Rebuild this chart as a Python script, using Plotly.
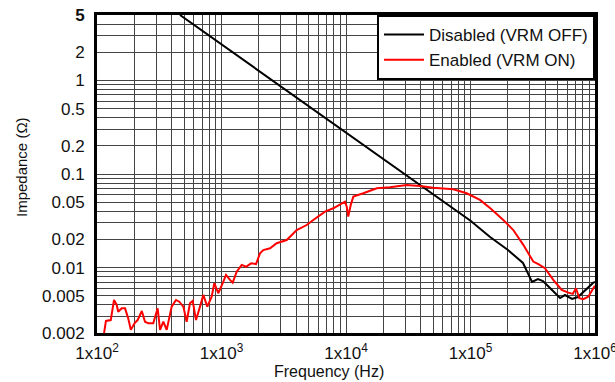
import math
import plotly.graph_objects as go

# Impedance sweep, VRM disabled (Hz, ohm)
freq_off = [464, 1000, 2000, 5000, 10000, 20000, 50000, 100000, 143600, 200000,
            264000, 312000, 348000, 382000, 435000, 524000, 574000, 654000, 730000,
            862000, 964000, 1000000]
z_off = [5.0, 2.43, 1.26, 0.533, 0.277, 0.144, 0.061, 0.0317, 0.0212, 0.0154,
         0.0112, 0.00702, 0.00755, 0.00719, 0.00605, 0.00473, 0.00509, 0.00462, 0.00485,
         0.00605, 0.00686, 0.00702]

# Impedance sweep, VRM enabled (Hz, ohm)
freq_on = [114, 118, 129, 137, 144, 148, 158, 168, 178, 187, 200, 212, 229, 243, 258,
           283, 307, 321, 341, 363, 398, 431, 458, 494, 525, 558, 587, 624, 672, 714,
           769, 834, 875, 942, 1023, 1087, 1170, 1230, 1325, 1453, 1574, 1727, 1894,
           2039, 2167, 2453, 2776, 3045, 3340, 4018, 4833, 5462, 6776, 7906, 9240, 9817,
           10140, 10430, 10910, 11450, 13770, 17660, 22560, 30730, 39300, 50240, 72760,
           93130, 119100, 143500, 183400, 220700, 265500, 319300, 350600, 396500, 462300,
           540300, 610800, 662600, 703700, 748000, 805400, 883300, 968800, 1000000]
z_on = [0.0020, 0.00269, 0.00275, 0.00451, 0.00399, 0.00338, 0.00367, 0.00367, 0.00288,
        0.00216, 0.00254, 0.00275, 0.00344, 0.00264, 0.00254, 0.00254, 0.00367, 0.00216,
        0.00264, 0.00216, 0.00383, 0.00451, 0.00432, 0.00383, 0.00264, 0.00416, 0.00440,
        0.00275, 0.00383, 0.00510, 0.00383, 0.00489, 0.00681, 0.00532, 0.00681, 0.00834,
        0.00738, 0.00690, 0.00904, 0.01067, 0.0102, 0.0111, 0.0109, 0.0142, 0.0154,
        0.0161, 0.0182, 0.0189, 0.0197, 0.0252, 0.0285, 0.0323, 0.0396, 0.0430, 0.0487,
        0.0506, 0.0448, 0.0350, 0.0467, 0.0573, 0.0622, 0.0705, 0.0721, 0.0764, 0.0745,
        0.0714, 0.0687, 0.0622, 0.0528, 0.0434, 0.0323, 0.0252, 0.0175, 0.0116, 0.0109,
        0.00984, 0.00738, 0.00577, 0.00540, 0.00523, 0.00601, 0.00470, 0.00459, 0.00489,
        0.00601, 0.0064]

x_ticks = [1e2, 1e3, 1e4, 1e5, 1e6]
x_labels = ["1x10<sup>2</sup>", "1x10<sup>3</sup>", "1x10<sup>4</sup>",
            "1x10<sup>5</sup>", "1x10<sup>6</sup>"]
y_ticks = [0.002, 0.005, 0.01, 0.02, 0.05, 0.1, 0.2, 0.5, 1, 2, 5]
y_labels = ["0.002", "0.005", "0.01", "0.02", "0.05", "0.1", "0.2", "0.5", "1", "2", "<b>5</b>"]

x_minor = [m * 10 ** d for d in range(2, 6) for m in range(1, 10)] + [1e6]
y_minor = [m * 10 ** d for d in range(-3, 1) for m in range(1, 10)]
y_minor = [v for v in y_minor if 0.002 <= v <= 5]

FONT = "Liberation Sans, Arial, sans-serif"
GRID = "#444444"

fig = go.Figure()
fig.add_trace(go.Scatter(x=freq_off, y=z_off, mode="lines", name="Disabled (VRM OFF)",
                         line=dict(color="black", width=2)))
fig.add_trace(go.Scatter(x=freq_on, y=z_on, mode="lines", name="Enabled (VRM ON)",
                         line=dict(color="#ff0000", width=2)))

fig.update_layout(
    width=615, height=382,
    margin=dict(l=97, r=20, t=15, b=49),
    paper_bgcolor="white", plot_bgcolor="white",
    font=dict(family=FONT, size=17, color="#111"),
    showlegend=True,
    legend=dict(x=1, y=1, xanchor="right", yanchor="top",
                bgcolor="white", bordercolor="black", borderwidth=2,
                font=dict(size=17), tracegroupgap=0, itemwidth=40),
    xaxis=dict(type="log", range=[2, 6], automargin=False,
               tickvals=x_ticks, ticktext=x_labels, ticklabeloverflow="allow",
               showgrid=True, gridcolor=GRID, gridwidth=1,
               minor=dict(tickvals=x_minor, showgrid=True, gridcolor=GRID, gridwidth=1),
               showline=True, linecolor="black", linewidth=3, mirror=True,
               ticks="outside", ticklen=3, tickcolor="rgba(0,0,0,0)",
               tickfont=dict(size=17), zeroline=False),
    yaxis=dict(type="log", range=[math.log10(0.002), math.log10(5)], automargin=False,
               tickvals=y_ticks, ticktext=y_labels,
               showgrid=True, gridcolor=GRID, gridwidth=1,
               minor=dict(tickvals=y_minor, showgrid=True, gridcolor=GRID, gridwidth=1),
               showline=True, linecolor="black", linewidth=3, mirror=True,
               ticks="outside", ticklen=6, tickcolor="rgba(0,0,0,0)",
               tickfont=dict(size=17), zeroline=False),
    annotations=[
        dict(text="Frequency (Hz)", xref="paper", yref="paper", x=(329 - 97) / 498,
             y=-(371 - 333) / 318, xanchor="center", yanchor="middle",
             showarrow=False, font=dict(size=16)),
        dict(text="Impedance (Ω)", xref="paper", yref="paper", x=-(97 - 21) / 498,
             y=(333 - 167) / 318, xanchor="center", yanchor="middle", textangle=-90,
             showarrow=False, font=dict(size=15)),
    ],
)

fig.write_html("out.html")
